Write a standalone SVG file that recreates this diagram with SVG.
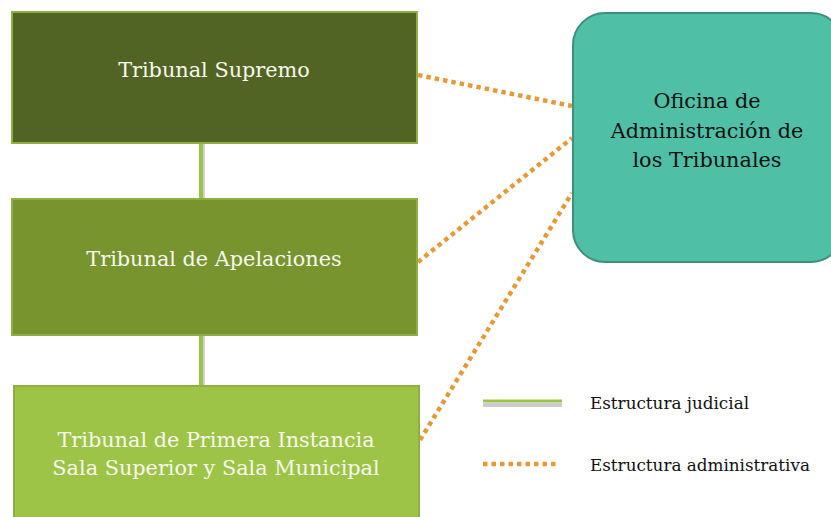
<svg xmlns="http://www.w3.org/2000/svg" width="831" height="517" viewBox="0 0 831 517">
<style>
.box{stroke:#8DB040;stroke-width:2}
.lbl{font-family:"DejaVu Serif","Liberation Serif",serif;font-size:20.8px;text-anchor:middle}
.w{fill:#F8F8F0}
.k{fill:#111}
.leg{font-family:"DejaVu Serif","Liberation Serif",serif;font-size:16.8px;fill:#111}
.jud{stroke:#9BC34A;stroke-width:4;fill:none}
.jsh{stroke:#000;stroke-opacity:0.18;stroke-width:6;fill:none}
.adm{stroke:#E59A3A;stroke-width:4.5;fill:none;stroke-dasharray:4.5 4}
</style>
<g id="connectors">
<line class="jsh" x1="202" y1="143" x2="202" y2="199"/>
<line class="jud" x1="201" y1="143" x2="201" y2="199"/>
<line class="jsh" x1="202" y1="335" x2="202" y2="385"/>
<line class="jud" x1="201" y1="335" x2="201" y2="385"/>
<line class="adm" x1="418" y1="75" x2="572" y2="106"/>
<line class="adm" x1="418" y1="262" x2="572" y2="138"/>
<line class="adm" x1="420" y1="440" x2="572" y2="193"/>
</g>
<g id="n1">
<rect class="box" x="12" y="12" width="405" height="131" fill="#526423"/>
<text class="lbl w" x="214" y="77">Tribunal Supremo</text>
</g>
<g id="n2">
<rect class="box" x="12" y="199" width="405" height="136" fill="#77942E"/>
<text class="lbl w" x="214" y="266">Tribunal de Apelaciones</text>
</g>
<g id="n3">
<rect class="box" x="14" y="386" width="405" height="140" fill="#9DC446"/>
<text class="lbl w" x="216" y="447">Tribunal de Primera Instancia</text>
<text class="lbl w" x="216" y="475">Sala Superior y Sala Municipal</text>
</g>
<g id="n4">
<rect x="573" y="13" width="270" height="249" rx="32" fill="#4FBFA5" stroke="#3F8F7E" stroke-width="2"/>
<text class="lbl k" x="707" y="108">Oficina de</text>
<text class="lbl k" x="707" y="138">Administración de</text>
<text class="lbl k" x="707" y="167">los Tribunales</text>
</g>
<g id="legend">
<line x1="483" y1="405" x2="562" y2="405" stroke="#000" stroke-opacity="0.2" stroke-width="4"/>
<line x1="483" y1="401" x2="562" y2="401" stroke="#9BC34A" stroke-width="3"/>
<text class="leg" x="590" y="409">Estructura judicial</text>
<line class="adm" x1="483" y1="464" x2="556" y2="464" stroke-width="4"/>
<text class="leg" x="590" y="471">Estructura administrativa</text>
</g>
</svg>
